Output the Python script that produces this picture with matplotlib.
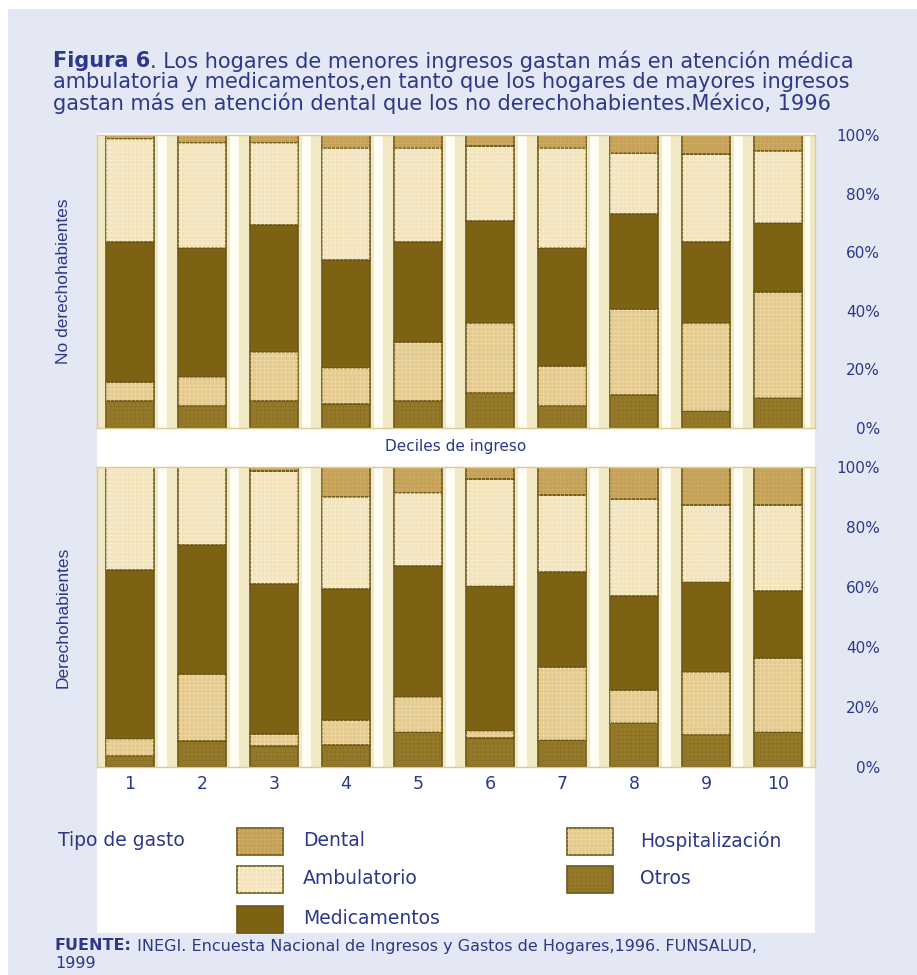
import matplotlib
matplotlib.use("Agg")
import matplotlib.pyplot as plt
from matplotlib.patches import Rectangle

W, H = 917, 975

# ---------------- data ----------------
deciles = list(range(1, 11))
decile_labels = [str(d) for d in deciles]
pct_ticks = [0, 20, 40, 60, 80, 100]
pct_labels = ["0%", "20%", "40%", "60%", "80%", "100%"]

# stacking order bottom -> top
series_names = ["Otros", "Hospitalización", "Medicamentos", "Ambulatorio", "Dental"]

# No derechohabientes (% of spending)
nd_otros = [9.1, 7.6, 9.1, 8.3, 9.1, 11.9, 7.4, 11.4, 5.9, 10.2]
nd_hosp = [6.5, 9.8, 17.0, 12.2, 20.4, 24.1, 13.6, 29.3, 30.1, 36.2]
nd_medic = [48.0, 44.0, 43.2, 36.9, 34.1, 34.8, 40.4, 32.4, 27.6, 23.5]
nd_ambul = [34.9, 35.8, 27.9, 38.1, 31.9, 25.5, 34.1, 20.9, 29.9, 24.8]
nd_dental = [1.5, 2.8, 2.8, 4.5, 4.5, 3.7, 4.5, 6.0, 6.5, 5.3]

# Derechohabientes (% of spending)
d_otros = [3.6, 8.6, 7.1, 7.4, 11.6, 9.7, 9.1, 14.7, 10.8, 11.6]
d_hosp = [5.7, 22.4, 3.9, 8.2, 11.6, 2.4, 24.2, 10.9, 20.9, 24.7]
d_medic = [56.3, 43.1, 50.0, 43.7, 43.9, 48.1, 31.6, 31.3, 29.9, 22.3]
d_ambul = [34.4, 25.9, 37.6, 30.6, 24.2, 35.8, 25.9, 32.4, 25.8, 28.8]
d_dental = [0.0, 0.0, 1.4, 10.1, 8.7, 4.0, 9.2, 10.7, 12.6, 12.6]

legend_col1 = ["Dental", "Ambulatorio", "Medicamentos"]
legend_col2 = ["Hospitalización", "Otros"]

# ---------------- style ----------------
BLUE = "#2c3889"
BG = "#e4e8f4"
GAP = "#f1e8c6"
STRIPE = "#fffdf2"
EDGE = "#6b5716"
colors = {
    "Otros": "#957a2a",
    "Hospitalización": "#e4ca8e",
    "Medicamentos": "#7d6214",
    "Ambulatorio": "#f3e4bb",
    "Dental": "#c6a258",
}
hatches = {
    "Otros": ("++++", "#8a6f22"),
    "Hospitalización": ("++++", "#eedbab"),
    "Medicamentos": (None, None),
    "Ambulatorio": ("++++", "#f8eed3"),
    "Dental": ("++++", "#cfad66"),
}

plt.rcParams["hatch.linewidth"] = 0.4
SANS = ["DejaVu Sans"]
ARIAL = ["Liberation Sans", "DejaVu Sans"]

fig = plt.figure(figsize=(W / 100, H / 100), dpi=100)
fig.patch.set_facecolor("white")


def fx(x):
    return x / W


def fy(y):
    return 1 - y / H


# light blue page background and white chart box
fig.add_artist(Rectangle((fx(8), 0), 1 - fx(8), fy(9), transform=fig.transFigure,
                         facecolor=BG, edgecolor="none", zorder=-3))
fig.add_artist(Rectangle((fx(97), fy(933)), fx(815) - fx(97), fy(133) - fy(933),
                         transform=fig.transFigure, facecolor="white",
                         edgecolor="none", zorder=-2))

ax_top = fig.add_axes([fx(97), fy(428), fx(815) - fx(97), fy(135) - fy(428)])
ax_bot = fig.add_axes([fx(97), fy(767), fx(815) - fx(97), fy(467) - fy(767)])


def draw_panel(ax, data):
    ax.set_facecolor(GAP)
    ax.set_xlim(0.542, 10.51)
    ax.set_ylim(0, 100)
    for d in deciles[:-1]:
        ax.axvspan(d + 0.45 - 0.065, d + 0.45 + 0.065, color=STRIPE, lw=0, zorder=0.5)
    ax.axvspan(10.41 - 0.035, 10.41 + 0.035, color=STRIPE, lw=0, zorder=0.5)
    bottom = [0.0] * len(deciles)
    for name, vals in zip(series_names, data):
        ax.bar(deciles, vals, width=0.67, bottom=bottom, color=colors[name],
               edgecolor=EDGE, linewidth=1.2, zorder=2)
        h, hc = hatches[name]
        if h:
            ax.bar(deciles, vals, width=0.67, bottom=bottom, facecolor="none",
                   edgecolor=hc, linewidth=0, hatch=h, zorder=2.5)
        bottom = [b + v for b, v in zip(bottom, vals)]
    for s in ax.spines.values():
        s.set_color("#dccb8c")
        s.set_linewidth(1.0)
    ax.yaxis.tick_right()
    ax.set_yticks(pct_ticks, pct_labels)
    ax.tick_params(axis="y", length=0, pad=46.8, labelsize=11, labelcolor=BLUE)
    for t in ax.get_yticklabels():
        t.set_horizontalalignment("right")
        t.set_family(SANS)


draw_panel(ax_top, [nd_otros, nd_hosp, nd_medic, nd_ambul, nd_dental])
draw_panel(ax_bot, [d_otros, d_hosp, d_medic, d_ambul, d_dental])

ax_top.set_xticks([])
ax_top.set_xlabel("Deciles de ingreso", fontsize=11, color=BLUE, labelpad=8,
                  family=SANS)
ax_bot.set_xticks(deciles, decile_labels)
ax_bot.tick_params(axis="x", length=0, pad=6, labelsize=12.5, labelcolor=BLUE)

ax_top.set_ylabel("No derechohabientes", fontsize=12.5, color=BLUE, family=ARIAL)
ax_top.yaxis.set_label_position("left")
ax_top.yaxis.set_label_coords(-26 / 718, 0.5)
ax_bot.set_ylabel("Derechohabientes", fontsize=12.5, color=BLUE, family=ARIAL)
ax_bot.yaxis.set_label_position("left")
ax_bot.yaxis.set_label_coords(-26 / 718, 0.5)

# ---------------- title ----------------
fig.canvas.draw()
renderer = fig.canvas.get_renderer()


def bold_then_regular(x, y, bold, rest, size):
    t = fig.text(fx(x), fy(y), bold, fontsize=size, weight="bold", color=BLUE,
                 va="center", ha="left", family=SANS)
    bb = t.get_window_extent(renderer)
    fig.text(bb.x1 / W, fy(y), rest, fontsize=size, color=BLUE, va="center",
             ha="left", family=SANS)


TS = 15
bold_then_regular(53, 61, "Figura 6",
                  ". Los hogares de menores ingresos gastan más en atención médica", TS)
fig.text(fx(53), fy(82),
         "ambulatoria y medicamentos,en tanto que los hogares de mayores ingresos",
         fontsize=TS, color=BLUE, va="center", ha="left", family=SANS)
fig.text(fx(53), fy(103),
         "gastan más en atención dental que los no derechohabientes.México, 1996",
         fontsize=TS, color=BLUE, va="center", ha="left", family=SANS)

# ---------------- legend ----------------
LS = 13.5
fig.text(fx(58), fy(840), "Tipo de gasto", fontsize=LS, color=BLUE, va="center",
         ha="left", family=SANS)
row_tops = [828, 866, 906]
for col_names, sx, tx in [(legend_col1, 237, 303), (legend_col2, 567, 640)]:
    for name, top in zip(col_names, row_tops):
        fig.add_artist(Rectangle((fx(sx), fy(top + 27)), 46 / W, 27 / H,
                                 transform=fig.transFigure, facecolor=colors[name],
                                 edgecolor=EDGE, linewidth=1.2, zorder=3))
        h, hc = hatches[name]
        if h:
            fig.add_artist(Rectangle((fx(sx), fy(top + 27)), 46 / W, 27 / H,
                                     transform=fig.transFigure, facecolor="none",
                                     edgecolor=hc, linewidth=0, hatch=h, zorder=3.5))
        fig.text(fx(tx), fy(top + 13), name, fontsize=LS, color=BLUE, va="center",
                 ha="left", family=SANS)

# ---------------- source ----------------
FS = 11.5
bold_then_regular(55, 946, "FUENTE:",
                  " INEGI. Encuesta Nacional de Ingresos y Gastos de Hogares,1996. FUNSALUD,",
                  FS)
fig.text(fx(55), fy(964), "1999", fontsize=FS, color=BLUE, va="center", ha="left",
         family=SANS)

fig.savefig("out.png", dpi=100, facecolor=fig.get_facecolor())
